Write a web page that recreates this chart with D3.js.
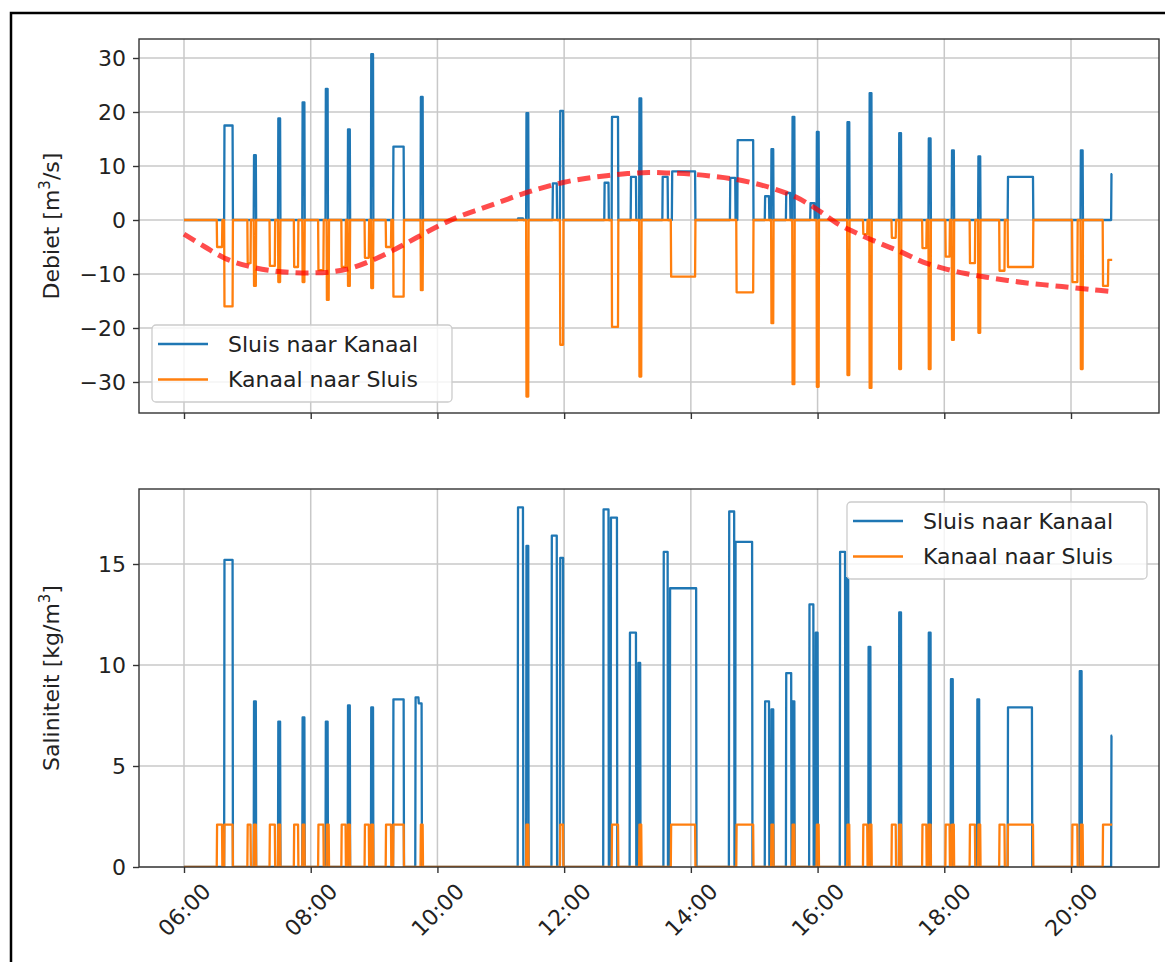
<!DOCTYPE html>
<html>
<head>
<meta charset="utf-8">
<script src="https://cdn.jsdelivr.net/npm/d3@7"></script>
<style>
  body { margin: 0; background: #fff; }
  svg { display: block; font-family: "DejaVu Sans", sans-serif; }
</style>
</head>
<body>
<svg id="chart" width="1165" height="962"></svg>
<script>
//
// Data (times as HH:MM)
//

// debiet [m3/s]: [start, end, value]
const sluisNaarKanaalDebiet = [
  ['06:38', '06:46', 17.5], ['07:06', '07:08', 12.0], ['07:29', '07:31', 18.8],
  ['07:52', '07:54', 21.8], ['08:14', '08:16', 24.3], ['08:35', '08:37', 16.8],
  ['08:57', '08:59', 30.7], ['09:18', '09:28', 13.6], ['09:44', '09:46', 22.8],
  ['11:16', '11:21', 0.3], ['11:24', '11:26', 19.8], ['11:49', '11:53', 6.8],
  ['11:56', '11:59', 20.2], ['12:38', '12:42', 6.9], ['12:45', '12:51', 19.1],
  ['13:03', '13:08', 8.0], ['13:11', '13:13', 22.5], ['13:33', '13:38', 8.0],
  ['13:42', '14:04', 9.0], ['14:37', '14:42', 7.8], ['14:44', '14:59', 14.8],
  ['15:10', '15:14', 4.4], ['15:16', '15:18', 13.1], ['15:30', '15:34', 5.0],
  ['15:36', '15:38', 19.1], ['15:53', '15:57', 3.1], ['15:59', '16:01', 16.3],
  ['16:28', '16:30', 18.1], ['16:49', '16:51', 23.5], ['17:17', '17:19', 16.1],
  ['17:45', '17:47', 15.1], ['18:07', '18:09', 12.9], ['18:32', '18:34', 11.8],
  ['19:00', '19:24', 8.0], ['20:09', '20:11', 12.9], ['20:38', '20:39', 8.5],
]

const kanaalNaarSluisDebiet = [
  ['06:31', '06:36', -5.0], ['06:38', '06:46', -16.0], ['07:00', '07:03', -8.0],
  ['07:06', '07:08', -12.2], ['07:21', '07:26', -8.5], ['07:29', '07:31', -11.5],
  ['07:44', '07:48', -8.7], ['07:52', '07:54', -11.5], ['08:07', '08:12', -9.3],
  ['08:15', '08:17', -14.8], ['08:29', '08:33', -8.7], ['08:35', '08:37', -12.2],
  ['08:51', '08:55', -7.0], ['08:57', '08:59', -12.6], ['09:11', '09:16', -5.0],
  ['09:18', '09:28', -14.2], ['09:44', '09:46', -13.0], ['11:24', '11:26', -32.7],
  ['11:56', '11:59', -23.1], ['12:45', '12:51', -19.8], ['13:11', '13:13', -29.0],
  ['13:41', '14:04', -10.5], ['14:43', '14:59', -13.4], ['15:16', '15:18', -19.1],
  ['15:36', '15:38', -30.4], ['15:59', '16:01', -30.9], ['16:28', '16:30', -28.7],
  ['16:43', '16:47', -2.6], ['16:49', '16:51', -31.1], ['17:10', '17:14', -3.3],
  ['17:17', '17:19', -27.6], ['17:39', '17:43', -5.2], ['17:45', '17:47', -27.6],
  ['18:01', '18:05', -6.8], ['18:07', '18:09', -22.2], ['18:24', '18:29', -8.0],
  ['18:32', '18:34', -20.9], ['18:52', '18:57', -9.4], ['19:00', '19:24', -8.7],
  ['20:01', '20:06', -11.5], ['20:09', '20:11', -27.6], ['20:30', '20:35', -12.2],
  ['20:35', '20:39', -7.4],
]

// red dashed trend in the debiet panel
const trendDebiet = [
  ['06:00', -2.6], ['06:20', -5.0], ['06:40', -7.2], ['07:00', -8.5], ['07:20', -9.3],
  ['07:40', -9.7], ['08:00', -9.8], ['08:20', -9.6], ['08:40', -8.8], ['09:00', -7.3],
  ['09:20', -5.4], ['09:40', -3.3], ['10:00', -1.2], ['10:20', 0.6], ['10:40', 2.0],
  ['11:00', 3.4], ['11:20', 4.8], ['11:40', 6.0], ['12:00', 7.0], ['12:20', 7.7],
  ['12:40', 8.2], ['13:00', 8.6], ['13:20', 8.8], ['13:40', 8.7], ['14:00', 8.5],
  ['14:20', 8.1], ['14:40', 7.6], ['15:00', 6.8], ['15:20', 5.7], ['15:40', 4.2],
  ['16:00', 1.9], ['16:20', -0.8], ['16:40', -2.7], ['17:00', -4.4], ['17:20', -6.0],
  ['17:40', -7.8], ['18:00', -9.0], ['18:20', -9.9], ['18:40', -10.6], ['19:00', -11.2],
  ['19:20', -11.7], ['19:40', -12.1], ['20:00', -12.5], ['20:20', -12.9], ['20:36', -13.2],
]

// saliniteit [kg/m3]: [start, end, value]
const sluisNaarKanaalZout = [
  ['06:38', '06:46', 15.2], ['07:06', '07:08', 8.2], ['07:29', '07:31', 7.2],
  ['07:52', '07:54', 7.4], ['08:14', '08:16', 7.2], ['08:35', '08:37', 8.0],
  ['08:57', '08:59', 7.9], ['09:18', '09:28', 8.3], ['09:39', '09:42', 8.4],
  ['09:42', '09:45', 8.1], ['11:16', '11:21', 17.8], ['11:24', '11:26', 15.9],
  ['11:48', '11:53', 16.4], ['11:56', '11:59', 15.3], ['12:37', '12:42', 17.7],
  ['12:44', '12:50', 17.3], ['13:02', '13:08', 11.6], ['13:10', '13:12', 10.1],
  ['13:34', '13:38', 15.6], ['13:40', '14:05', 13.8], ['14:36', '14:41', 17.6],
  ['14:42', '14:58', 16.1], ['15:10', '15:14', 8.2], ['15:16', '15:18', 7.8],
  ['15:30', '15:35', 9.6], ['15:36', '15:38', 8.2], ['15:52', '15:56', 13.0],
  ['15:58', '16:00', 11.6], ['16:21', '16:26', 15.6], ['16:27', '16:29', 14.3],
  ['16:48', '16:50', 10.9], ['17:17', '17:19', 12.6], ['17:45', '17:47', 11.6],
  ['18:06', '18:08', 9.3], ['18:31', '18:33', 8.3], ['19:00', '19:23', 7.9],
  ['20:08', '20:10', 9.7], ['20:38', '20:39', 6.5],
]

// water from the canal always carries the canal salinity
const zoutKanaal = 2.1
const kanaalNaarSluisZout = kanaalNaarSluisDebiet.map(([s, e]) => [s, e, zoutKanaal])

const tijdStart = '06:00'
const tijdEinde = '20:39'
const debietTicks = [-30, -20, -10, 0, 10, 20, 30]
const zoutTicks = [0, 5, 10, 15]
const legendaNamen = ['Sluis naar Kanaal', 'Kanaal naar Sluis']

//
// Configuration
//

const colorBlue = '#1f77b4'
const colorOrange = '#ff7f0e'
const colorGrid = '#c8c8c8'
const colorSpine = '#333'
const fontSize = 22
const left = 139
const right = 1159

//
// Scales
//

const parseTime = d3.timeParse('%H:%M')
const shift = (d) => new Date(+d + 20 * 1000)

const x = d3
  .scaleTime()
  .domain([parseTime('06:00'), parseTime('20:00')])
  .range([184, 1071])
const xTicks = x.ticks(d3.timeHour.every(2))

const svg = d3.select('#chart')

// step path from [start, end, value] events
function stepPoints(events) {
  const einde = parseTime(tijdEinde)
  const pts = [[parseTime(tijdStart), 0]]
  let ended = false
  events.forEach((ev, i) => {
    const s = parseTime(ev[0])
    const e = parseTime(ev[1])
    const prev = events[i - 1]
    const next = events[i + 1]
    if (!(prev && prev[1] === ev[0])) pts.push([s, 0])
    pts.push([shift(s), ev[2]])
    pts.push([e, ev[2]])
    if (+e >= +einde) {
      ended = true
      return
    }
    if (!(next && next[0] === ev[1])) pts.push([shift(e), 0])
  })
  if (!ended) pts.push([einde, 0])
  return pts
}

function panel(opts) {
  const { top, bottom, y, ticks, id } = opts
  const g = svg.append('g')

  g.append('clipPath')
    .attr('id', id)
    .append('rect')
    .attr('x', left)
    .attr('y', top)
    .attr('width', right - left)
    .attr('height', bottom - top)

  // grid
  g.selectAll('.gx')
    .data(xTicks)
    .join('line')
    .attr('x1', (d) => x(d))
    .attr('x2', (d) => x(d))
    .attr('y1', top)
    .attr('y2', bottom)
    .attr('stroke', colorGrid)
    .attr('stroke-width', 1.5)
  g.selectAll('.gy')
    .data(ticks)
    .join('line')
    .attr('x1', left)
    .attr('x2', right)
    .attr('y1', (d) => y(d))
    .attr('y2', (d) => y(d))
    .attr('stroke', colorGrid)
    .attr('stroke-width', 1.5)

  const line = d3
    .line()
    .x((d) => x(d[0]))
    .y((d) => y(d[1]))

  const plot = g.append('g').attr('clip-path', `url(#${id})`)
  opts.series.forEach(([events, color]) => {
    plot
      .append('path')
      .attr('d', line(stepPoints(events)))
      .attr('fill', 'none')
      .attr('stroke', color)
      .attr('stroke-width', 2.3)
      .attr('stroke-linejoin', 'round')
  })

  if (opts.trend) {
    plot
      .append('path')
      .attr(
        'd',
        d3
          .line()
          .curve(d3.curveCatmullRom)
          .x((d) => x(parseTime(d[0])))
          .y((d) => y(d[1]))(opts.trend)
      )
      .attr('fill', 'none')
      .attr('stroke', 'red')
      .attr('stroke-opacity', 0.7)
      .attr('stroke-width', 5)
      .attr('stroke-dasharray', '13,7')
  }

  // y axis
  const ya = g
    .append('g')
    .attr('transform', `translate(${left},0)`)
    .call(d3.axisLeft(y).tickValues(ticks).tickSize(6).tickPadding(7))
  ya.select('.domain').remove()
  ya.selectAll('line').attr('stroke', colorSpine).attr('stroke-width', 1.4)
  ya.selectAll('text')
    .attr('font-size', fontSize)
    .attr('font-family', 'DejaVu Sans')
    .attr('fill', '#222')

  // x axis
  const xa = g
    .append('g')
    .attr('transform', `translate(0,${bottom})`)
    .call(d3.axisBottom(x).tickValues(xTicks).tickSize(6).tickFormat(d3.timeFormat('%H:%M')))
  xa.select('.domain').remove()
  xa.selectAll('line').attr('stroke', colorSpine).attr('stroke-width', 1.4)
  if (opts.xLabels) {
    xa.selectAll('text')
      .attr('font-size', fontSize)
      .attr('font-family', 'DejaVu Sans')
      .attr('fill', '#222')
      .attr('text-anchor', 'middle')
      .attr('dominant-baseline', 'central')
      .attr('y', 0)
      .attr('dy', 0)
      .attr('transform', 'translate(0,43) rotate(-45)')
  } else {
    xa.selectAll('text').remove()
  }

  // spines
  g.append('rect')
    .attr('x', left)
    .attr('y', top)
    .attr('width', right - left)
    .attr('height', bottom - top)
    .attr('fill', 'none')
    .attr('stroke', colorSpine)
    .attr('stroke-width', 1.4)

  // y label
  const lbl = g
    .append('text')
    .attr('transform', `translate(59,${(top + bottom) / 2}) rotate(-90)`)
    .attr('text-anchor', 'middle')
    .attr('font-size', fontSize)
    .attr('fill', '#222')
  lbl.append('tspan').text(opts.label[0])
  lbl.append('tspan').attr('font-size', 15).attr('dy', -9).text('3')
  lbl.append('tspan').attr('dy', 9).text(opts.label[1])

  // legend
  const [lx, ly] = opts.legend
  const lg = g.append('g').attr('transform', `translate(${lx},${ly})`)
  lg.append('rect')
    .attr('width', 300)
    .attr('height', 77)
    .attr('rx', 4)
    .attr('fill', '#fff')
    .attr('fill-opacity', 0.8)
    .attr('stroke', '#ccc')
    .attr('stroke-width', 1.3)
  opts.series.forEach(([, color], i) => {
    const yy = 19 + i * 35.5
    lg.append('line')
      .attr('x1', 6)
      .attr('x2', 56)
      .attr('y1', yy)
      .attr('y2', yy)
      .attr('stroke', color)
      .attr('stroke-width', 2.3)
    lg.append('text')
      .attr('x', 76)
      .attr('y', yy)
      .attr('dominant-baseline', 'central')
      .attr('font-size', fontSize)
      .attr('fill', '#222')
      .text(legendaNamen[i])
  })
}

//
// Render
//

panel({
  id: 'clipDebiet',
  top: 39,
  bottom: 413,
  y: d3.scaleLinear().domain([-30, 30]).range([382, 58]),
  ticks: debietTicks,
  series: [
    [sluisNaarKanaalDebiet, colorBlue],
    [kanaalNaarSluisDebiet, colorOrange],
  ],
  trend: trendDebiet,
  label: ['Debiet [m', '/s]'],
  legend: [152, 325],
  xLabels: false,
})

panel({
  id: 'clipZout',
  top: 489,
  bottom: 867,
  y: d3.scaleLinear().domain([0, 15]).range([867, 564]),
  ticks: zoutTicks,
  series: [
    [sluisNaarKanaalZout, colorBlue],
    [kanaalNaarSluisZout, colorOrange],
  ],
  label: ['Saliniteit [kg/m', ']'],
  legend: [847, 502],
  xLabels: true,
})

// outer frame
svg
  .append('rect')
  .attr('x', 11)
  .attr('y', 13)
  .attr('width', 1170)
  .attr('height', 970)
  .attr('fill', 'none')
  .attr('stroke', '#000')
  .attr('stroke-width', 2.5)
</script>
</body>
</html>
